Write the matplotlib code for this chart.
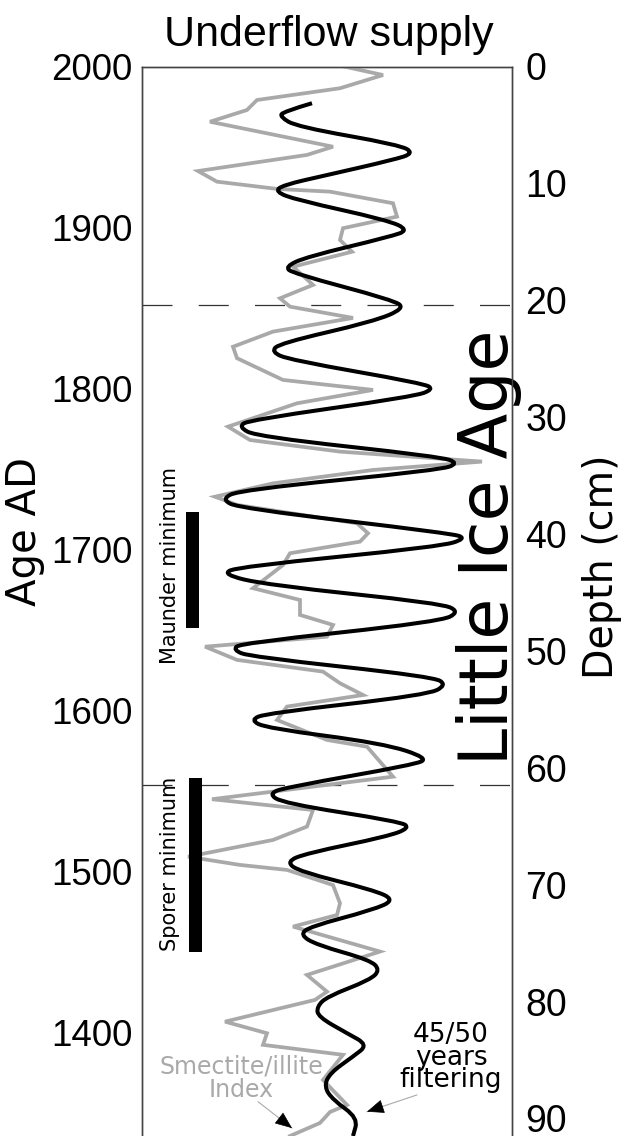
import matplotlib
matplotlib.use("Agg")
import matplotlib.pyplot as plt
from matplotlib.path import Path
from matplotlib.patches import PathPatch

# ---- data ----
# Smectite/illite index (arbitrary horizontal units) vs age AD
smectite_age = [2000.0, 1994.7, 1986.5, 1979.2, 1973.0, 1965.7, 1950.2, 1945.1, 1935.1, 1928.5,
                1924.0, 1922.3, 1915.1, 1906.8, 1899.6, 1892.3, 1885.0, 1875.7, 1864.4, 1856.1,
                1850.9, 1843.9, 1835.4, 1826.0, 1818.9, 1805.4, 1799.2, 1790.9, 1776.4, 1768.1,
                1760.9, 1754.7, 1749.5, 1741.2, 1732.9, 1727.8, 1716.4, 1710.2, 1705.0, 1697.8,
                1690.5, 1676.1, 1668.8, 1659.5, 1653.3, 1646.0, 1639.8, 1631.6, 1624.3, 1617.1,
                1609.8, 1602.6, 1594.3, 1581.9, 1577.7, 1559.1, 1545.1, 1538.4, 1528.1, 1519.8,
                1509.4, 1504.3, 1501.2, 1491.8, 1480.5, 1473.2, 1466.0, 1450.5, 1436.0, 1425.6,
                1420.5, 1407.0, 1399.8, 1392.6, 1386.4, 1370.8, 1355.3, 1350.9, 1344.1, 1336.0]
smectite_val = [202, 241, 198, 115, 105, 68, 191, 165, 56, 75,
                135, 188, 251, 255, 201, 198, 210, 151, 171, 138,
                148, 211, 131, 91, 95, 141, 231, 155, 86, 108,
                198, 340, 231, 131, 73, 95, 215, 226, 218, 148,
                141, 111, 158, 158, 191, 185, 63, 95, 181, 198,
                221, 145, 135, 185, 225, 251, 70, 171, 165, 131,
                46, 98, 145, 191, 198, 195, 151, 238, 165, 185,
                173, 83, 125, 121, 201, 181, 205, 188, 178, 148]

# 45/50 years filtered signal
filtered_age = [1977.2, 1971.9, 1968.8, 1962.6, 1951.3, 1946.1, 1942.0, 1932.6, 1926.4, 1922.3,
                1917.1, 1904.7, 1898.5, 1894.3, 1881.9, 1875.7, 1871.6, 1855.0, 1849.9, 1841.6,
                1828.2, 1822.9, 1817.8, 1803.3, 1799.6, 1795.0, 1780.6, 1776.4, 1770.2, 1757.8,
                1753.7, 1749.5, 1737.1, 1731.3, 1725.7, 1710.2, 1707.1, 1701.9, 1689.5, 1684.9,
                1678.1, 1666.8, 1661.6, 1655.3, 1641.9, 1637.8, 1633.6, 1621.2, 1616.0, 1609.8,
                1598.5, 1594.3, 1589.2, 1579.8, 1570.5, 1566.4, 1552.9, 1548.8, 1542.6, 1531.2,
                1527.3, 1521.9, 1511.6, 1506.3, 1500.1, 1488.8, 1482.6, 1476.4, 1466.0, 1460.9,
                1454.6, 1445.3, 1439.1, 1432.9, 1422.5, 1416.3, 1410.1, 1399.8, 1392.6, 1385.3,
                1375.1, 1366.7, 1358.4, 1347.2, 1336.0]
filtered_val = [170, 141, 138, 155, 258, 272, 251, 185, 141, 133,
                155, 245, 267, 248, 165, 143, 151, 251, 263, 231,
                138, 129, 148, 281, 292, 271, 108, 96, 115, 298,
                317, 298, 98, 79, 98, 308, 325, 298, 98, 79,
                125, 298, 318, 298, 98, 91, 108, 291, 305, 285,
                125, 108, 125, 241, 287, 271, 148, 126, 141, 258,
                268, 245, 165, 144, 158, 231, 253, 231, 168, 158,
                175, 228, 238, 228, 185, 175, 176, 205, 226, 211,
                188, 182, 191, 216, 211]

# solar minima (age ranges)
minima_names = ["Maunder minimum", "Sporer minimum"]
minima_start = [1651.4, 1450.5]
minima_end = [1723.4, 1558.3]

# Little Ice Age boundaries
lia_bounds = [1852, 1554]

age_ticks = [1400, 1500, 1600, 1700, 1800, 1900, 2000]
depth_ticks = [0, 10, 20, 30, 40, 50, 60, 70, 80, 90]

# ---- figure ----
W, H = 623, 1136
fig = plt.figure(figsize=(W / 100, H / 100), dpi=100)
ax = fig.add_axes([142 / W, 0, 370 / W, (H - 66.5) / H])

FONT = "Liberation Sans"
TXT = "DejaVu Sans"

ax.plot(smectite_val, smectite_age, color="#a9a9a9", lw=2.7, solid_joinstyle="miter", zorder=3)

# filtered curve drawn as a smooth path (quadratic Bezier through the read points)
pts = list(zip(filtered_val, filtered_age))
verts = [pts[0]]
codes = [Path.MOVETO]
for i in range(1, len(pts) - 1):
    mid = ((pts[i][0] + pts[i + 1][0]) / 2, (pts[i][1] + pts[i + 1][1]) / 2)
    verts += [pts[i], mid]
    codes += [Path.CURVE3, Path.CURVE3]
verts.append(pts[-1])
codes.append(Path.LINETO)
ax.add_patch(PathPatch(Path(verts, codes), facecolor="none", edgecolor="black",
                       lw=2.9, joinstyle="round", capstyle="butt", zorder=4,
                       transform=ax.transData))

for b in lia_bounds:
    ax.axhline(b, color="#333333", lw=0.9, ls=(0, (24, 21)), zorder=2)

bar_x = [50.5, 53.5]
for xb, s, e in zip(bar_x, minima_start, minima_end):
    ax.bar(xb, e - s, bottom=s, width=13, color="black", zorder=5)

ax.text(28, 1690.5, minima_names[0], rotation=90, ha="center", va="center",
        fontsize=15, family=TXT)
ax.text(28, 1505, minima_names[1], rotation=90, ha="center", va="center",
        fontsize=15, family=TXT)

ax.text(347, 1701.7, "Little Ice Age", rotation=90, ha="center", va="center",
        fontsize=48, family=TXT)

ax.text(99, 1372, "Smectite/illite\nIndex", ha="center", va="center", fontsize=17,
        family=TXT, color="#a9a9a9", linespacing=0.95)
ax.text(309, 1384.5, "45/50\nyears\nfiltering", ha="center", va="center", fontsize=19,
        family=TXT, color="black", linespacing=0.82)

# arrows: thin gray shaft, black head
for start, tip in [((116, 1357.3), (150, 1340.9)), ((275, 1361.5), (225, 1351.1))]:
    ax.annotate("", xy=tip, xytext=start,
                arrowprops=dict(arrowstyle="-", color="#aaaaaa", lw=0.8, shrinkA=0, shrinkB=0))
    dx = tip[0] - start[0]
    dy = tip[1] - start[1]
    ax.annotate("", xy=tip, xytext=(tip[0] - 0.3 * dx, tip[1] - 0.3 * dy),
                arrowprops=dict(arrowstyle="-|>,head_length=1.1,head_width=0.45",
                                color="black", lw=0.5, shrinkA=0, shrinkB=0))

ax.set_xlim(0, 370)
ax.set_ylim(1336.0, 2000)
ax.set_xticks([])
ax.set_yticks(age_ticks)
ax.set_yticklabels([str(t) for t in age_ticks], fontsize=26.5, family=FONT)
ax.tick_params(axis="y", length=0, pad=7)

ax2 = ax.twinx()
ax2.set_ylim(91.5, 0)
ax2.set_yticks(depth_ticks)
ax2.set_yticklabels([str(t) for t in depth_ticks], fontsize=27, family=FONT)
ax2.tick_params(axis="y", length=0, pad=9.5)

for a in (ax, ax2):
    for side in ("left", "right", "top"):
        a.spines[side].set_color("#444444")
        a.spines[side].set_linewidth(1.0)
    a.spines["bottom"].set_visible(False)

fig.text(329 / W, 1 - 35 / H, "Underflow supply", ha="center", va="center",
         fontsize=31, family=FONT)
fig.text(25 / W, 1 - 532 / H, "Age AD", rotation=90, ha="center", va="center",
         fontsize=29, family=TXT)
fig.text(602 / W, 1 - 567 / H, "Depth (cm)", rotation=90, ha="center", va="center",
         fontsize=28.5, family=TXT)

fig.savefig("out.png", dpi=100)
